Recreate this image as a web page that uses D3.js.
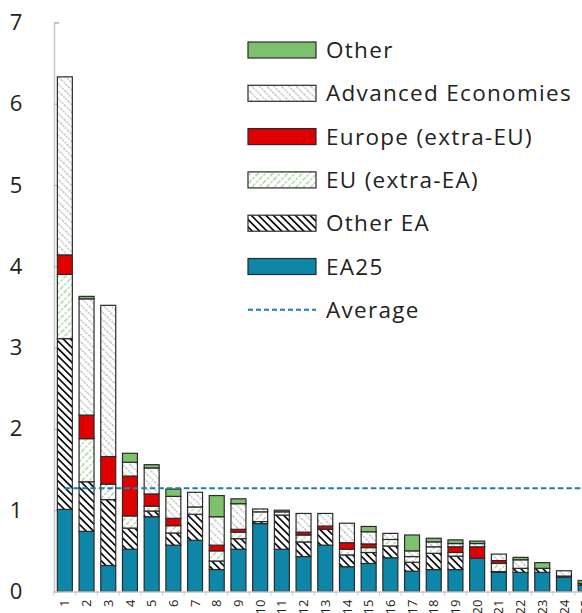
<!DOCTYPE html>
<html><head><meta charset="utf-8">
<script src="https://cdn.jsdelivr.net/npm/d3@7"></script>
<style>
body{margin:0;background:#fff}
svg{display:block}
text{font-family:"Open Sans","Noto Sans",sans-serif;fill:#222}
</style>
</head><body>
<svg id="chart" width="582" height="613"></svg>
<script>
// Categories (ranked units) and the stacked components of each bar
const categories = d3.range(1, 26).map(String);
const ea25       = [1.01,0.74,0.32,0.52,0.92,0.57,0.63,0.27,0.52,0.835,0.52,0.43,0.57,0.305,0.345,0.415,0.25,0.27,0.27,0.41,0.235,0.235,0.235,0.175,0.08];
const otherEA    = [2.10,0.61,0.81,0.26,0.07,0.15,0.32,0.105,0.13,0.025,0.42,0.18,0.195,0.145,0.135,0.145,0.11,0.20,0.165,0,0.01,0.05,0.05,0.015,0.02];
const euExtraEA  = [0.79,0.53,0.19,0.15,0.06,0.09,0.09,0.125,0.08,0.12,0.04,0.085,0,0.07,0.06,0.08,0.07,0.08,0.045,0,0.10,0,0,0,0];
const europeExEU = [0.24,0.29,0.34,0.49,0.15,0.09,0,0.07,0.035,0,0,0.035,0.04,0.08,0.045,0,0,0,0.07,0.14,0.035,0,0,0,0];
const advanced   = [2.19,1.43,1.86,0.17,0.32,0.27,0.18,0.35,0.315,0.035,0,0.23,0.155,0.24,0.15,0.075,0.07,0.06,0.04,0.04,0.08,0.105,0,0.065,0];
const other      = [0,0.03,0,0.11,0.04,0.09,0,0.26,0.06,0,0.02,0,0,0,0.065,0,0.195,0.045,0.045,0.03,0,0.03,0.07,0,0.035];
const average = 1.27;
const yTicks = [0,1,2,3,4,5,6,7];

const keys = ["ea25","otherEA","euExtraEA","europeExEU","advanced","other"];
const labels = {
  other: "Other", advanced: "Advanced Economies", europeExEU: "Europe (extra-EU)",
  euExtraEA: "EU (extra-EA)", otherEA: "Other EA", ea25: "EA25"
};
const fills = {
  ea25: "#0e86a8", otherEA: "url(#hatchBlack)", euExtraEA: "url(#hatchGreen)",
  europeExEU: "#e00000", advanced: "url(#hatchGrey)", other: "#7dc06e"
};
const series = {ea25, otherEA, euExtraEA, europeExEU, advanced, other};
const rows = categories.map((c, i) => {
  const r = {cat: c};
  keys.forEach(k => r[k] = series[k][i]);
  return r;
});

const svg = d3.select("#chart");

// hatch patterns
const defs = svg.append("defs");
function hatch(id, angle, color, width, dash, gap) {
  const p = defs.append("pattern").attr("id", id)
    .attr("patternUnits", "userSpaceOnUse")
    .attr("width", 10).attr("height", gap)
    .attr("patternTransform", `rotate(${angle})`);
  p.append("rect").attr("width", 10).attr("height", gap).attr("fill", "#fff");
  p.append("line").attr("x1", 0).attr("x2", 10).attr("y1", gap / 2).attr("y2", gap / 2)
    .attr("stroke", color).attr("stroke-width", width)
    .attr("stroke-dasharray", dash);
}
hatch("hatchBlack", 45, "#111", 1.7, null, 5.2);
hatch("hatchGrey", 45, "#9a9a9a", 1, "2,1", 5.2);
hatch("hatchGreen", -45, "#6dbb5c", 1, "2.5,1.5", 5.2);

const x = d3.scaleBand().domain(categories).range([54, 596.5])
  .paddingInner(0.31).paddingOuter(0.155);
const y = d3.scaleLinear().domain([0, 7]).range([591.5, 22.4]);

// y axis: inward ticks, labels on the far left
const yAxis = svg.append("g").attr("transform", "translate(54,0)")
  .call(d3.axisRight(y).tickValues(yTicks).tickFormat(d3.format("d")).tickSize(5));
yAxis.select(".domain").attr("stroke", "#c8c8c8").attr("stroke-width", 1.5);
yAxis.selectAll(".tick line").attr("stroke", "#b0b0b0");
yAxis.selectAll(".tick text").attr("x", -38).attr("text-anchor", "middle")
  .attr("font-size", 22).attr("fill", "#222");

// stacked bars
const stacked = d3.stack().keys(keys)(rows);
svg.append("g").selectAll("g").data(stacked).join("g")
  .attr("fill", d => fills[d.key])
  .selectAll("rect").data(d => d.filter(s => s[1] - s[0] > 0)).join("rect")
  .attr("x", d => x(d.data.cat))
  .attr("width", x.bandwidth())
  .attr("y", d => y(d[1]))
  .attr("height", d => y(d[0]) - y(d[1]))
  .attr("stroke", "#2a2a2a").attr("stroke-width", 1.2);

// x axis
const xAxis = svg.append("g").attr("transform", `translate(0,${y(0)})`)
  .call(d3.axisBottom(x).tickSize(0).tickPadding(6));
xAxis.select(".domain").attr("stroke", "#c8c8c8").attr("stroke-width", 1.5);
xAxis.selectAll(".tick text")
  .attr("transform", "rotate(-90)")
  .attr("text-anchor", "end").attr("x", -8).attr("y", 0).attr("dy", "0.35em")
  .attr("font-size", 13).attr("fill", "#333");
// separators between categories on the baseline
const half = x.step() * x.paddingInner() / 2;
svg.append("g").selectAll("line").data(categories).join("line")
  .attr("x1", d => x(d) - half).attr("x2", d => x(d) - half)
  .attr("y1", y(0)).attr("y2", y(0) + 4)
  .attr("stroke", "#c8c8c8").attr("stroke-width", 1);

// average line
svg.append("line")
  .attr("x1", x(categories[0]) + x.bandwidth() / 2).attr("x2", 582)
  .attr("y1", y(average)).attr("y2", y(average))
  .attr("stroke", "#1a7fae").attr("stroke-width", 2.2).attr("stroke-dasharray", "5.5,3");

// legend
const legendItems = ["other","advanced","europeExEU","euExtraEA","otherEA","ea25","average"];
const lg = svg.append("g");
legendItems.forEach((k, i) => {
  const cy = 50 + i * 43.3;
  const g = lg.append("g").attr("transform", `translate(248,${cy})`);
  if (k === "average") {
    g.append("line").attr("x1", 0).attr("x2", 68).attr("stroke", "#1a7fae")
      .attr("stroke-width", 2).attr("stroke-dasharray", "5,3");
  } else {
    g.append("rect").attr("x", 0).attr("y", -8).attr("width", 68).attr("height", 16)
      .attr("fill", fills[k]).attr("stroke", "#2a2a2a").attr("stroke-width", 1.2);
  }
  g.append("text").attr("x", 78).attr("dy", "0.36em").attr("font-size", 22.5)
    .attr("letter-spacing", 1.3)
    .text(k === "average" ? "Average" : labels[k]);
});
</script>
</body></html>
